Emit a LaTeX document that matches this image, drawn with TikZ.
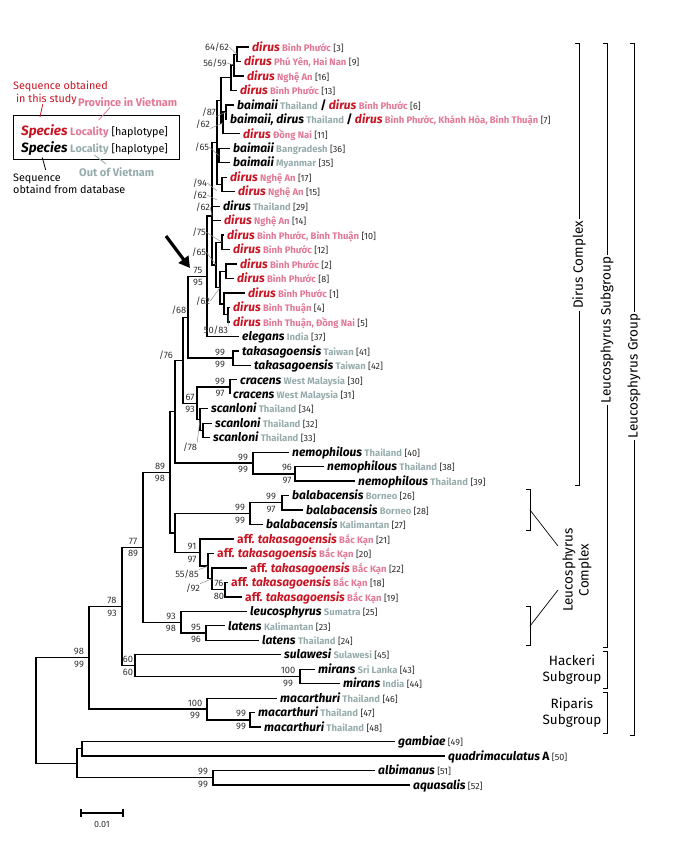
\documentclass[tikz,border=0pt]{standalone}
\usepackage{fontspec}
\setmainfont{Fira Sans}
\usetikzlibrary{arrows.meta}
\definecolor{myred}{RGB}{200,20,35}
\definecolor{vnpink}{RGB}{226,120,150}
\definecolor{outgray}{RGB}{150,172,172}
\definecolor{hapgray}{RGB}{40,40,40}
\definecolor{bsgray}{RGB}{50,50,50}
\newcommand\Sr[1]{{\color{myred}\fontsize{12}{12}\selectfont\bfseries\itshape #1}}
\newcommand\Sru[1]{{\color{myred}\fontsize{12}{12}\selectfont\bfseries #1}}
\newcommand\Sb[1]{{\color{black}\fontsize{12}{12}\selectfont\bfseries\itshape #1}}
\newcommand\Sbu[1]{{\color{black}\fontsize{12}{12}\selectfont\bfseries #1}}
\newcommand\Lv[1]{{\color{vnpink}\fontsize{9.5}{9.5}\selectfont\bfseries #1}}
\newcommand\Lo[1]{{\color{outgray}\fontsize{9.5}{9.5}\selectfont\bfseries #1}}
\newcommand\Hp[1]{{\color{hapgray}\fontsize{9}{9}\selectfont [#1]}}
\newcommand\Lf[4]{\node[lf] (L#1) at (#2,#3+4.2) {#4};\coordinate (t#1) at (#2-3,#3);}
\newcommand\Ed[2]{\foreach \cc in {#2}{\draw[br] (#1) |- (\cc);}}
\newcommand\BS[4]{\node[bs] (#1t) at ([xshift=-#4pt,yshift=6pt]#1) {#2};\node[bs] (#1b) at ([xshift=-#4pt,yshift=-6.5pt]#1) {#3};}
\begin{document}
\begin{tikzpicture}[x=1pt,y=-1pt,
  br/.style={line width=1.3pt, draw=black},
  lf/.style={anchor=base west, inner sep=0pt, font=\fontsize{9}{9}\selectfont},
  bs/.style={inner sep=0pt, text=bsgray, font=\fontsize{9.3}{9.3}\selectfont},
  ld/.style={draw=black!45, line width=0.5pt},
  brk/.style={draw=black, line width=0.7pt},
  grp/.style={font=\fontsize{13.5}{15}\selectfont, inner sep=2pt, fill=white},
  legt/.style={anchor=base west, inner sep=0pt, font=\fontsize{10.8}{10.8}\selectfont}]
\useasboundingbox (0,0) rectangle (685,849);
% ---------- leaves ----------
\Lf{3}{252}{47.0}{\Sr{dirus} \Lv{Bình Phước} \Hp{3}}
\Lf{9}{244}{61.47}{\Sr{dirus} \Lv{Phú Yên, Hai Nan} \Hp{9}}
\Lf{16}{247}{75.94}{\Sr{dirus} \Lv{Nghệ An} \Hp{16}}
\Lf{13}{240}{90.41}{\Sr{dirus} \Lv{Bình Phước} \Hp{13}}
\Lf{6}{237}{104.88}{\Sb{baimaii} \Lo{Thailand} \Sbu{/} \Sr{dirus} \Lv{Bình Phước} \Hp{6}}
\Lf{7}{230}{119.35}{\Sb{baimaii, dirus} \Lo{Thailand} \Sbu{/} \Sr{dirus} \Lv{Bình Phước, Khánh Hòa, Bình Thuận} \Hp{7}}
\Lf{11}{243}{133.82}{\Sr{dirus} \Lv{Đồng Nai} \Hp{11}}
\Lf{36}{233}{148.29}{\Sb{baimaii} \Lo{Bangradesh} \Hp{36}}
\Lf{35}{233}{162.76}{\Sb{baimaii} \Lo{Myanmar} \Hp{35}}
\Lf{17}{230}{177.23}{\Sr{dirus} \Lv{Nghệ An} \Hp{17}}
\Lf{15}{238}{191.7}{\Sr{dirus} \Lv{Nghệ An} \Hp{15}}
\Lf{29}{223}{206.17}{\Sb{dirus} \Lo{Thailand} \Hp{29}}
\Lf{14}{224}{220.64}{\Sr{dirus} \Lv{Nghệ An} \Hp{14}}
\Lf{10}{227}{235.11}{\Sr{dirus} \Lv{Bình Phước, Bình Thuận} \Hp{10}}
\Lf{12}{233}{249.58}{\Sr{dirus} \Lv{Bình Phước} \Hp{12}}
\Lf{2}{240}{264.05}{\Sr{dirus} \Lv{Bình Phước} \Hp{2}}
\Lf{8}{237}{278.52}{\Sr{dirus} \Lv{Bình Phước} \Hp{8}}
\Lf{1}{248}{292.99}{\Sr{dirus} \Lv{Bình Phước} \Hp{1}}
\Lf{4}{233}{307.46}{\Sr{dirus} \Lv{Bình Thuận} \Hp{4}}
\Lf{5}{233}{321.93}{\Sr{dirus} \Lv{Bình Thuận, Đồng Nai} \Hp{5}}
\Lf{37}{242}{336.4}{\Sb{elegans} \Lo{India} \Hp{37}}
\Lf{41}{242}{350.87}{\Sb{takasagoensis} \Lo{Taiwan} \Hp{41}}
\Lf{42}{254}{365.34}{\Sb{takasagoensis} \Lo{Taiwan} \Hp{42}}
\Lf{30}{240}{379.81}{\Sb{cracens} \Lo{West Malaysia} \Hp{30}}
\Lf{31}{233}{394.28}{\Sb{cracens} \Lo{West Malaysia} \Hp{31}}
\Lf{34}{211}{408.75}{\Sb{scanloni} \Lo{Thailand} \Hp{34}}
\Lf{32}{215}{423.22}{\Sb{scanloni} \Lo{Thailand} \Hp{32}}
\Lf{33}{213}{437.69}{\Sb{scanloni} \Lo{Thailand} \Hp{33}}
\Lf{40}{292}{452.16}{\Sb{nemophilous} \Lo{Thailand} \Hp{40}}
\Lf{38}{327}{466.63}{\Sb{nemophilous} \Lo{Thailand} \Hp{38}}
\Lf{39}{358}{481.1}{\Sb{nemophilous} \Lo{Thailand} \Hp{39}}
\Lf{26}{292}{495.57}{\Sb{balabacensis} \Lo{Borneo} \Hp{26}}
\Lf{28}{306}{510.04}{\Sb{balabacensis} \Lo{Borneo} \Hp{28}}
\Lf{27}{266}{524.51}{\Sb{balabacensis} \Lo{Kalimantan} \Hp{27}}
\Lf{21}{237}{538.98}{\Sru{aff.} \Sr{takasagoensis} \Lv{Bắc Kạn} \Hp{21}}
\Lf{20}{217}{553.45}{\Sru{aff.} \Sr{takasagoensis} \Lv{Bắc Kạn} \Hp{20}}
\Lf{22}{250}{567.92}{\Sru{aff.} \Sr{takasagoensis} \Lv{Bắc Kạn} \Hp{22}}
\Lf{18}{231}{582.39}{\Sru{aff.} \Sr{takasagoensis} \Lv{Bắc Kạn} \Hp{18}}
\Lf{19}{245}{596.86}{\Sru{aff.} \Sr{takasagoensis} \Lv{Bắc Kạn} \Hp{19}}
\Lf{25}{250}{611.33}{\Sb{leucosphyrus} \Lo{Sumatra} \Hp{25}}
\Lf{23}{228}{625.8}{\Sb{latens} \Lo{Kalimantan} \Hp{23}}
\Lf{24}{262}{640.27}{\Sb{latens} \Lo{Thailand} \Hp{24}}
\Lf{45}{284}{654.74}{\Sb{sulawesi} \Lo{Sulawesi} \Hp{45}}
\Lf{43}{318}{669.21}{\Sb{mirans} \Lo{Sri Lanka} \Hp{43}}
\Lf{44}{343}{683.68}{\Sb{mirans} \Lo{India} \Hp{44}}
\Lf{46}{280}{698.15}{\Sb{macarthuri} \Lo{Thailand} \Hp{46}}
\Lf{47}{258}{712.62}{\Sb{macarthuri} \Lo{Thailand} \Hp{47}}
\Lf{48}{264}{727.09}{\Sb{macarthuri} \Lo{Thailand} \Hp{48}}
\Lf{49}{398}{741.56}{\Sb{gambiae} \Hp{49}}
\Lf{50}{448}{756.03}{\Sb{quadrimaculatus} \Sbu{A} \Hp{50}}
\Lf{51}{378}{770.5}{\Sb{albimanus} \Hp{51}}
\Lf{52}{413}{784.97}{\Sb{aquasalis} \Hp{52}}
% ---------- internal nodes ----------
\coordinate (A1) at (237,54.24);
\coordinate (A2) at (234,65.09);
\coordinate (A3) at (231,77.75);
\coordinate (B1) at (226,112.12);
\coordinate (B2) at (223,122.97);
\coordinate (C1) at (221,100.36);
\coordinate (D1) at (219,155.53);
\coordinate (E1) at (222,184.47);
\coordinate (S1) at (217,142.4);
\coordinate (G5) at (222,242.35);
\coordinate (G1) at (226,271.29);
\coordinate (G2) at (228,314.7);
\coordinate (G3) at (224,303.85);
\coordinate (G4) at (220,287.57);
\coordinate (G6) at (216,264.96);
\coordinate (S2) at (212,216);
\coordinate (DC) at (207,276.2);
\coordinate (tak) at (233,358.1);
\coordinate (N68) at (188,317.15);
\coordinate (crac) at (230,387.05);
\coordinate (scanin) at (203,430.46);
\coordinate (scan) at (200,419.6);
\coordinate (c67) at (197,403.33);
\coordinate (N76) at (183,360.24);
\coordinate (nemin) at (295,473.87);
\coordinate (nem) at (253,463.0);
\coordinate (P) at (175,411.62);
\coordinate (balin) at (282,502.8);
\coordinate (bal) at (250,513.66);
\coordinate (a76) at (225,589.63);
\coordinate (a92) at (212,578.78);
\coordinate (a55) at (208,566.12);
\coordinate (aff) at (200,552.55);
\coordinate (BA) at (175,533.1);
\coordinate (N170) at (170,472.36);
\coordinate (lat) at (206,633.04);
\coordinate (leuc) at (181,622.19);
\coordinate (N143) at (143,547.28);
\coordinate (mir) at (300,676.45);
\coordinate (hack) at (135,665.6);
\coordinate (N122) at (122,606.44);
\coordinate (macin) at (250,719.86);
\coordinate (mac) at (207,709.0);
\coordinate (LG) at (89,657.72);
\coordinate (gam) at (82,748.8);
\coordinate (alb) at (213,777.74);
\coordinate (OG) at (77,763.27);
\coordinate (root) at (36,710.5);
% ---------- branches ----------
\Ed{A1}{t3,t9}
\Ed{A2}{A1,t16}
\Ed{A3}{A2,t13}
\Ed{B1}{t6,t7}
\Ed{B2}{B1,t11}
\Ed{C1}{A3,B2}
\Ed{D1}{t36,t35}
\Ed{E1}{t17,t15}
\Ed{S1}{C1,D1,E1}
\Ed{G5}{t10,t12}
\Ed{G1}{t2,t8}
\Ed{G2}{t4,t5}
\Ed{G3}{t1,G2}
\Ed{G4}{G1,G3}
\Ed{G6}{G5,G4}
\Ed{S2}{S1,t29,t14,G6}
\Ed{DC}{S2,t37}
\Ed{tak}{t41,t42}
\Ed{N68}{DC,tak}
\Ed{crac}{t30,t31}
\Ed{scanin}{t32,t33}
\Ed{scan}{t34,scanin}
\Ed{c67}{crac,scan}
\Ed{N76}{N68,c67}
\Ed{nemin}{t38,t39}
\Ed{nem}{t40,nemin}
\Ed{P}{N76,nem}
\Ed{balin}{t26,t28}
\Ed{bal}{balin,t27}
\Ed{a76}{t18,t19}
\Ed{a92}{t22,a76}
\Ed{a55}{t20,a92}
\Ed{aff}{t21,a55}
\Ed{BA}{bal,aff}
\Ed{N170}{P,BA}
\Ed{lat}{t23,t24}
\Ed{leuc}{t25,lat}
\Ed{N143}{N170,leuc}
\Ed{mir}{t43,t44}
\Ed{hack}{t45,mir}
\Ed{N122}{N143,hack}
\Ed{macin}{t47,t48}
\Ed{mac}{t46,macin}
\Ed{LG}{N122,mac}
\Ed{gam}{t49,t50}
\Ed{alb}{t51,t52}
\Ed{OG}{gam,alb}
\Ed{root}{LG,OG}
% ---------- support values ----------
\BS{DC}{75}{95}{9}
\BS{N170}{89}{98}{10}
\BS{N143}{77}{89}{10}
\BS{N122}{78}{93}{10}
\BS{LG}{98}{99}{10}
\BS{hack}{60}{60}{7}
\BS{mir}{100}{99}{12}
\BS{mac}{100}{99}{12}
\BS{macin}{99}{99}{9}
\BS{alb}{99}{99}{10}
\BS{leuc}{93}{98}{10}
\BS{lat}{95}{96}{10}
\BS{bal}{99}{99}{10}
\BS{balin}{99}{97}{11}
\BS{aff}{91}{97}{8}
\BS{a76}{76}{80}{6}
\BS{c67}{67}{93}{7}
\BS{crac}{99}{97}{10}
\BS{tak}{99}{99}{13}
\BS{nem}{99}{99}{10}
\BS{nemin}{96}{97}{8}
\node[bs] (q6462) at (217,47) {64/62}; \draw[ld] (q6462.east) -- (A1);
\node[bs] (q5659) at (215,63) {56/59}; \draw[ld] (q5659.east) -- (A2);
\node[bs] (q87) at (209,112) {/87}; \draw[ld] (q87.south east) -- (B1);
\node[bs] (q62a) at (203,124) {/62}; \draw[ld] (q62a.south east) -- (B2);
\node[bs] (q65a) at (202,147) {/65}; \draw[ld] (q65a.east) -- (D1);
\coordinate (k94) at (217,191);
\coordinate (k62b) at (217,200);
\node[bs] (q94) at (200,183) {/94}; \draw[ld] (q94.east) -- (k94);
\node[bs] (q62b) at (200,195) {/62}; \draw[ld] (q62b.east) -- (k62b);
\node[bs] (q62c) at (203,207) {/62}; \draw[ld] (q62c.east) -- (S2);
\node[bs] (q75) at (199,232) {/75}; \draw[ld] (q75.east) -- (G5);
\node[bs] (q65b) at (199,252) {/65}; \draw[ld] (q65b.east) -- (G6);
\node[bs] (q62d) at (203,301) {/62}; \draw[ld] (q62d.east) -- (G4);
\node[bs] (q5083) at (216,330) {50/83}; \draw[ld] (q5083.north east) -- (G2);
\node[bs] (q76) at (166,355) {/76};
\node[bs] (q68) at (179,310) {/68};
\node[bs] (q78) at (190,447) {/78}; \draw[ld] (q78.north east) -- (scan);
\node[bs] (q5585) at (187,574) {55/85}; \draw[ld] (q5585.north east) -- (a55);
\node[bs] (q92) at (193,588) {/92}; \draw[ld] (q92.north east) -- (a92);
% ---------- arrow ----------
\coordinate (arrT) at (166,236);
\coordinate (arrH) at (190,268);
\draw[line width=3.2pt, -{Triangle[length=11pt,width=12pt]}] (arrT) -- (arrH);
% ---------- legend ----------
\node[draw=black, line width=0.8pt, inner sep=0pt, minimum width=166pt, minimum height=44pt, anchor=north west] (legbox) at (13,115) {};
\node[legt] (leg1) at (21,135) {{\color{myred}\fontsize{13.5}{13.5}\selectfont\bfseries\itshape Species} {\color{vnpink}\bfseries Locality} [haplotype]};
\node[legt] (leg2) at (21,152) {{\fontsize{13.5}{13.5}\selectfont\bfseries\itshape Species} {\color{outgray}\bfseries Locality} [haplotype]};
\node[legt, text=myred] (seq1) at (13,89) {Sequence obtained};
\node[legt, text=myred] (seq2) at (16,102) {in this study};
\node[legt, text=vnpink, font=\fontsize{11}{11}\selectfont\bfseries] (prov) at (78,106) {Province in Vietnam};
\node[legt, text=outgray, font=\fontsize{11}{11}\selectfont\bfseries] (outv) at (79,176) {Out of Vietnam};
\node[legt] (seq3) at (13,181) {Sequence};
\node[legt] (seq4) at (13,193) {obtaind from database};
\coordinate (r1) at (42.7,104.3); \coordinate (r2) at (40,117);
\coordinate (p1) at (110,107.5); \coordinate (p2) at (98.7,120);
\coordinate (b1) at (42.3,157.5); \coordinate (b2) at (45.7,170);
\coordinate (g1) at (94.3,155); \coordinate (g2) at (106,164);
\draw[myred, line width=0.8pt] (r1) -- (r2);
\draw[vnpink, line width=0.8pt] (p1) -- (p2);
\draw[black, line width=0.8pt] (b1) -- (b2);
\draw[outgray, line width=0.8pt] (g1) -- (g2);
% ---------- group brackets ----------
\coordinate (dcT) at (579,43); \coordinate (dcB) at (579,485);
\coordinate (lsT) at (607,43); \coordinate (lsB) at (607,647);
\coordinate (lgT) at (634,43); \coordinate (lgB) at (634,735);
\draw[brk] ([xshift=-4pt]dcT) -- (dcT) -- (dcB) -- ([xshift=-4pt]dcB);
\draw[brk] ([xshift=-4pt]lsT) -- (lsT) -- (lsB) -- ([xshift=-4pt]lsB);
\draw[brk] ([xshift=-4pt]lgT) -- (lgT) -- (lgB) -- ([xshift=-4pt]lgB);
\node[grp, rotate=90] (dctxt) at (579,265) {Dirus Complex};
\node[grp, rotate=90] (lstxt) at (607,330) {Leucosphyrus Subgroup};
\node[grp, rotate=90] (lgtxt) at (634,376) {Leucosphyrus Group};
\coordinate (lc1T) at (530,489); \coordinate (lc1B) at (530,530); \coordinate (lc1M) at (530,510);
\coordinate (lc2T) at (530,606); \coordinate (lc2B) at (530,645); \coordinate (lc2M) at (530,626);
\draw[brk] ([xshift=-4pt]lc1T) -- (lc1T) -- (lc1B) -- ([xshift=-4pt]lc1B);
\draw[brk] ([xshift=-4pt]lc2T) -- (lc2T) -- (lc2B) -- ([xshift=-4pt]lc2B);
\node[grp, rotate=90, fill=none, align=center, font=\fontsize{13.5}{16}\selectfont] (lctxt) at (577,570) {Leucosphyrus\\Complex};
\coordinate (lcA) at (558,546); \coordinate (lcB) at (558,590);
\draw[brk] (lc1M) -- (lcA);
\draw[brk] (lc2M) -- (lcB);
\coordinate (hkT) at (607,651); \coordinate (hkB) at (607,688);
\coordinate (rpT) at (607,692); \coordinate (rpB) at (607,733);
\draw[brk] ([xshift=-4pt]hkT) -- (hkT) -- (hkB) -- ([xshift=-4pt]hkB);
\draw[brk] ([xshift=-4pt]rpT) -- (rpT) -- (rpB) -- ([xshift=-4pt]rpB);
\node[grp, fill=none, align=center, font=\fontsize{13.5}{16}\selectfont] (hktxt) at (572,670) {Hackeri\\Subgroup};
\node[grp, fill=none, align=center, font=\fontsize{13.5}{16}\selectfont] (rptxt) at (572,713) {Riparis\\Subgroup};
% ---------- scale bar ----------
\coordinate (sbL) at (81,813); \coordinate (sbR) at (123,813);
\draw[line width=1.2pt] (sbL) -- (sbR);
\draw[line width=1.2pt] ([yshift=4pt]sbL) -- ([yshift=-4pt]sbL);
\draw[line width=1.2pt] ([yshift=4pt]sbR) -- ([yshift=-4pt]sbR);
\node[bs, font=\fontsize{9}{9}\selectfont] (sbtxt) at (102,824) {0.01};
\end{tikzpicture}
\end{document}
